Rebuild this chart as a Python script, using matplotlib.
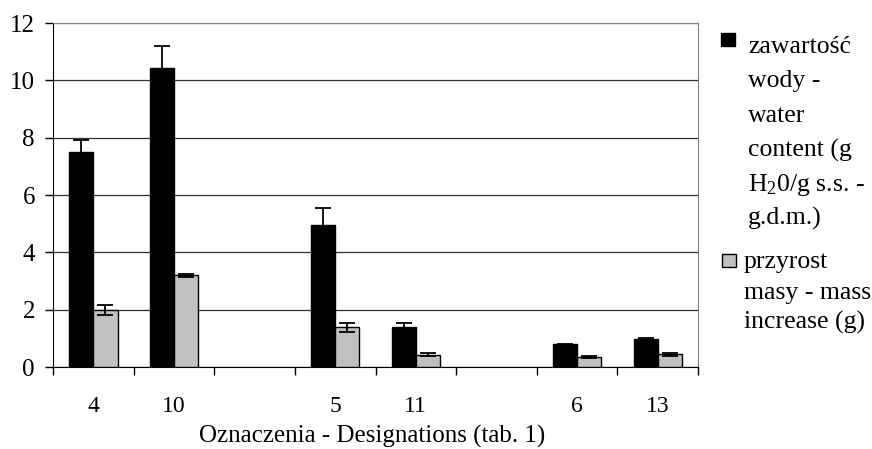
import numpy as np
import matplotlib
matplotlib.use("Agg")
import matplotlib.pyplot as plt
from matplotlib.patches import Rectangle

plt.rcParams['font.family'] = ['Liberation Serif', 'DejaVu Serif']
plt.rcParams['mathtext.default'] = 'regular'

# data
designations = ['4', '10', '', '5', '11', '', '6', '13']
water = [7.5, 10.42, np.nan, 4.94, 1.41, np.nan, 0.79, 0.96]
water_err = [0.42, 0.77, np.nan, 0.62, 0.14, np.nan, 0.02, 0.04]
mass = [2.0, 3.2, np.nan, 1.38, 0.43, np.nan, 0.36, 0.44]
mass_err = [0.17, 0.05, np.nan, 0.16, 0.05, np.nan, 0.03, 0.06]
yticks = [0, 2, 4, 6, 8, 10, 12]

labels = [['zawartość', 'wody -', 'water', 'content (g', 'H$_2$0/g s.s. -', 'g.d.m.)'],
          ['przyrost', 'masy - mass', 'increase (g)']]
colors = ['black', '#c0c0c0']

fig = plt.figure(figsize=(8.72, 4.49), dpi=100)
ax = fig.add_axes([53/872, 1-367/449, (698-53)/872, (367-23)/449])

x = np.arange(len(designations)) + 0.5
w = 0.3
ax.bar(x - w/2, water, w, color=colors[0], edgecolor='black', linewidth=1, zorder=3)
ax.bar(x + w/2, mass, w, color=colors[1], edgecolor='black', linewidth=1, zorder=3)
ax.errorbar(x - w/2, water, yerr=water_err, fmt='none', ecolor='black',
            elinewidth=1.3, capsize=5.5, capthick=1.3, zorder=4)
ax.errorbar(x + w/2, mass, yerr=mass_err, fmt='none', ecolor='black',
            elinewidth=1.3, capsize=5.5, capthick=1.3, zorder=4)

ax.set_xlim(0, len(designations))
ax.set_ylim(0, 12)
ax.set_yticks(yticks)
ax.yaxis.grid(True, color='#303030', linewidth=0.9, zorder=0)
ax.set_axisbelow(True)

ax.set_xticks(np.arange(len(designations) + 1))
ax.set_xticklabels([])
ax.set_xticks(x, minor=True)
ax.set_xticklabels(designations, minor=True)
ax.tick_params(axis='x', which='major', direction='out', length=6, width=1)
ax.tick_params(axis='x', which='minor', length=0, pad=21, labelsize=17)
ax.tick_params(axis='y', direction='out', length=6, width=1, pad=7, labelsize=18)

ax.spines['top'].set_color('#808080')
ax.spines['right'].set_color('#808080')
ax.spines['left'].set_color('black')
ax.spines['bottom'].set_color('black')

fig.text(372/872, 1-443/449, 'Oznaczenia - Designations (tab. 1)',
         ha='center', va='baseline', fontsize=18)

# legend drawn by hand, one text per line, marker on the first line
sq_y = [33, 254]
sq_x = [721, 722]
txt_x = [748, 744]
first_base = [53, 268]
line_step = [34.4, 30.5]
for i in range(2):
    fig.patches.append(Rectangle((sq_x[i]/872, 1-(sq_y[i]+13)/449), 14/872, 13/449,
                                 facecolor=colors[i], edgecolor='black', linewidth=1,
                                 transform=fig.transFigure))
    for j, line in enumerate(labels[i]):
        yb = first_base[i] + j*line_step[i]
        fig.text(txt_x[i]/872, 1-yb/449, line, ha='left', va='baseline', fontsize=18.5)

fig.savefig('out.png', dpi=100)
